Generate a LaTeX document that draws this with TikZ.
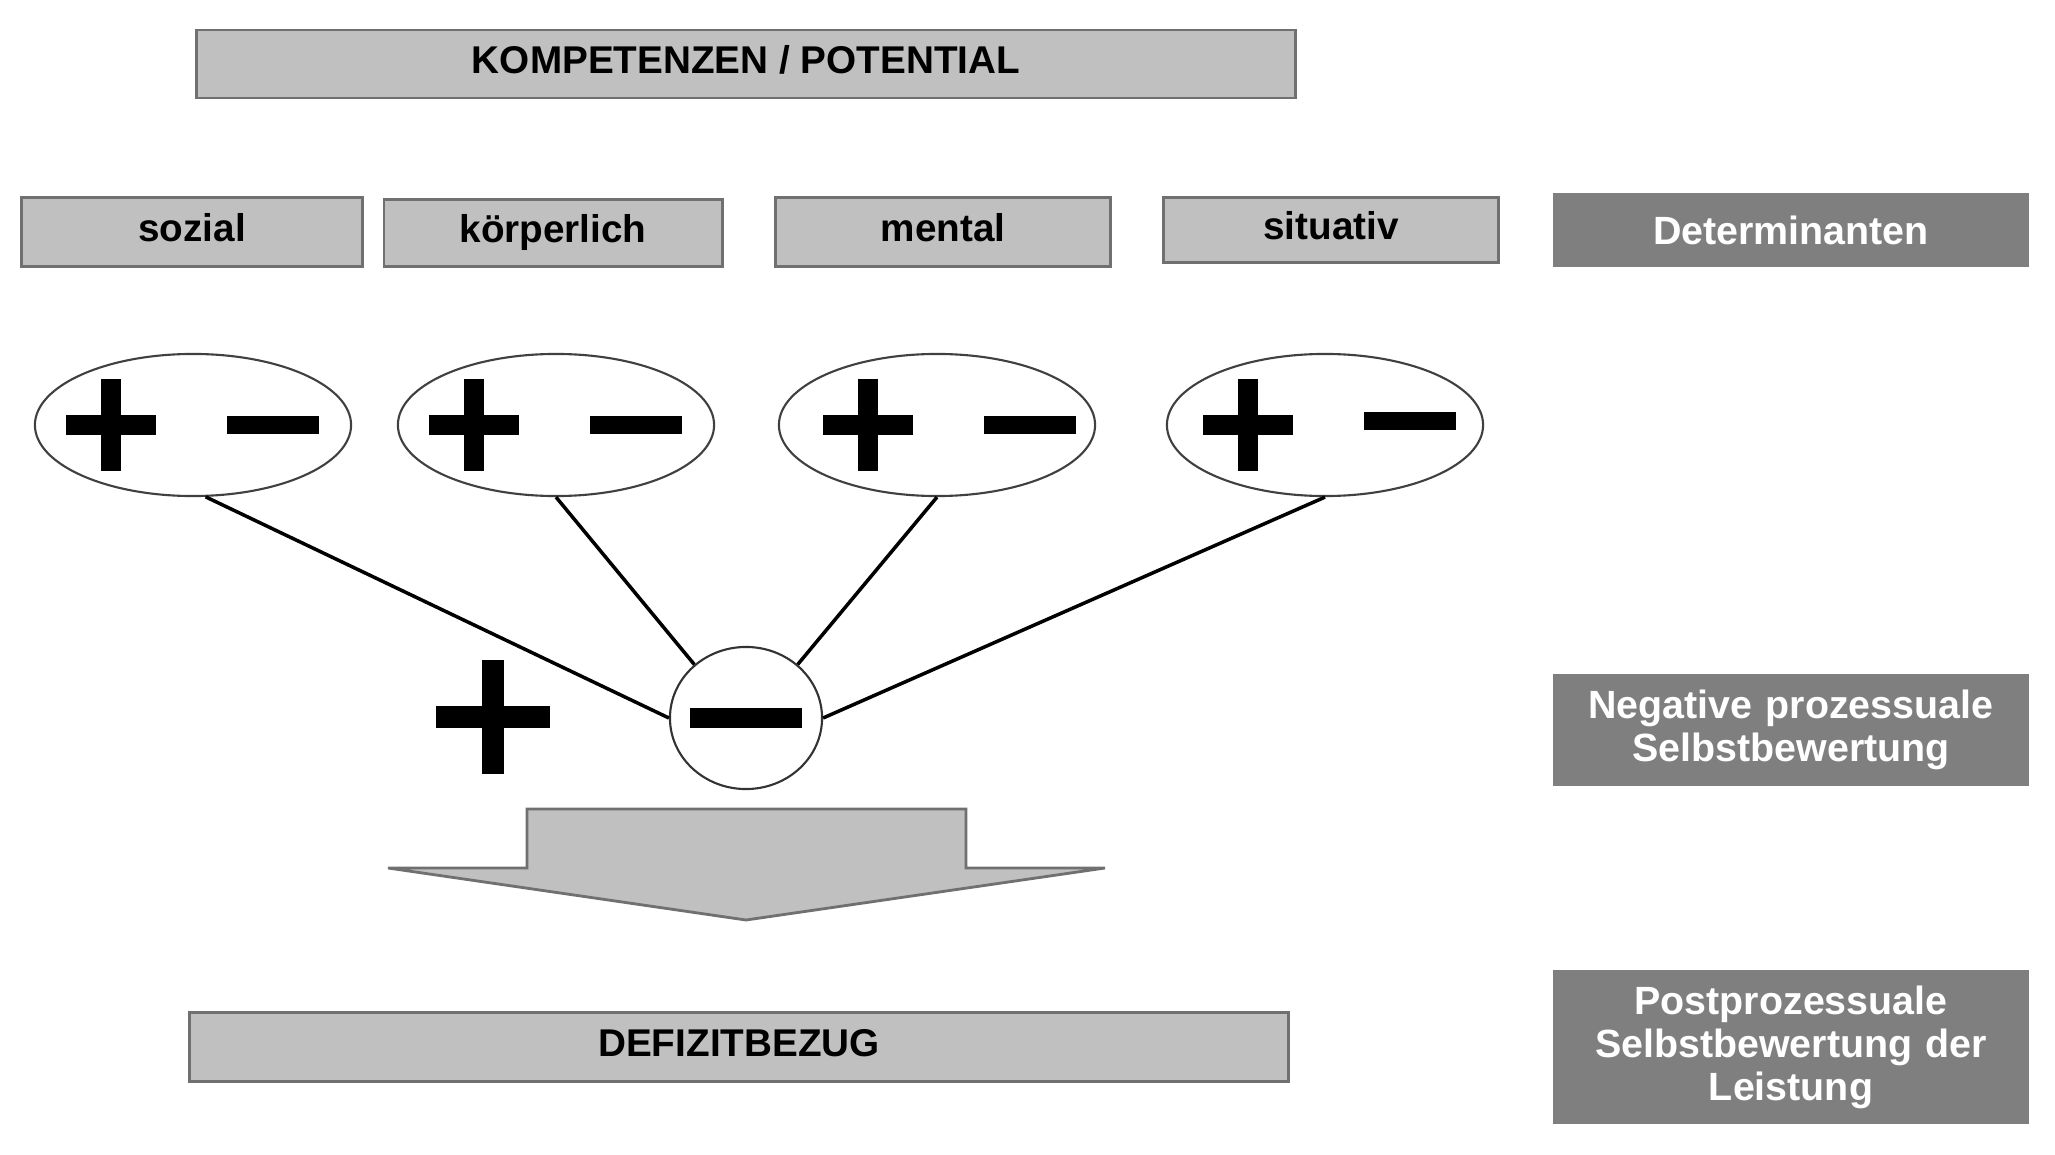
\documentclass[tikz,border=0pt]{standalone}
\usepackage{fontspec}
\setmainfont{Liberation Sans}
\usetikzlibrary{shapes.geometric}
\definecolor{boxgrey}{HTML}{C0C0C0}
\definecolor{boxline}{HTML}{707070}
\definecolor{darkgrey}{HTML}{7F7F7F}
\tikzset{
	plusmark/.pic={\fill (-45,-10) rectangle (45,10); \fill (-10,-46) rectangle (10,46);},
	minusmark/.pic={\fill (-46,-9) rectangle (46,9);},
	bigplus/.pic={\fill (-57,-11) rectangle (57,11); \fill (-11,-57) rectangle (11,57);},
	bigminus/.pic={\fill (-56,-10) rectangle (56,10);}
}
\begin{document}
\begin{tikzpicture}[x=0.01cm,y=-0.01cm,
		lightbox/.style={draw=boxline,fill=boxgrey,line width=0.8pt,inner sep=0pt,
			text height=1.3ex,text depth=0.3ex,font=\fontsize{11}{13}\selectfont\bfseries},
		darkbox/.style={fill=darkgrey,inner sep=0pt,text=white,align=center,
			text width=4.75cm,minimum width=4.75cm,font=\fontsize{11.2}{12.2}\selectfont\bfseries},
		blob/.style={ellipse,draw=black!75,fill=white,line width=0.6pt,inner sep=0pt,
			minimum width=3.16cm,minimum height=1.42cm},
		spoke/.style={line width=1pt}]
			\useasboundingbox (0,0) rectangle (2055,1155);
			% top row
			\node[lightbox,minimum width=10.98cm,minimum height=0.68cm] (komp) at (746,64) {KOMPETENZEN / POTENTIAL};
			\node[lightbox,minimum width=3.40cm,minimum height=0.69cm] (sozial) at (192,232) {sozial};
			\node[lightbox,minimum width=3.38cm,minimum height=0.67cm] (koerper) at (553,233) {körperlich};
			\node[lightbox,minimum width=3.35cm,minimum height=0.69cm] (mental) at (943,232) {mental};
			\node[lightbox,minimum width=3.35cm,minimum height=0.65cm] (situativ) at (1331,230) {situativ};
			% right column
			\node[darkbox,minimum height=0.73cm] (determ) at (1791,230) {Determinanten};
			\node[darkbox,minimum height=1.11cm] (negativ) at (1791,730) {Negative prozessuale\\Selbstbewertung};
			\node[darkbox,minimum height=1.54cm] (postproz) at (1791,1047) {Postprozessuale\\Selbstbewertung der\\Leistung};
			% ellipses
			\node[blob] (e1) at (193,425) {};
			\node[blob] (e2) at (556,425) {};
			\node[blob] (e3) at (937,425) {};
			\node[blob] (e4) at (1325,425) {};
			\node[ellipse,draw=black!80,fill=white,line width=0.6pt,inner sep=0pt,
				minimum width=1.52cm,minimum height=1.42cm] (neg) at (746,718) {};
			\draw[spoke] (e1.-80) -- (neg.west);
			\draw[spoke] (e2.south) -- (neg.134);
			\draw[spoke] (e3.south) -- (neg.46);
			\draw[spoke] (e4.south) -- (neg.east);
			% signs
			\foreach \e/\d/\u in {e1/0/0,e2/0/0,e3/13/0,e4/5/4} {
				\pic at ([xshift=-0.82cm+\d*0.01cm]\e.center) {plusmark};
				\pic at ([xshift=0.80cm+\d*0.01cm,yshift=\u*0.01cm]\e.center) {minusmark};
			}
			\pic at (493,717) {bigplus};
			\pic at (neg.center) {bigminus};
			% arrow
			\draw[boxline,fill=boxgrey,line width=0.8pt,line join=miter]
				(527,809) -- (966,809) -- (966,868) -- (1105,868) -- (746,920)
				-- (388,868) -- (527,868) -- cycle;
			\node[lightbox,minimum width=10.98cm,minimum height=0.69cm] (defizit) at (739,1047) {DEFIZITBEZUG};
		\end{tikzpicture}
\end{document}
